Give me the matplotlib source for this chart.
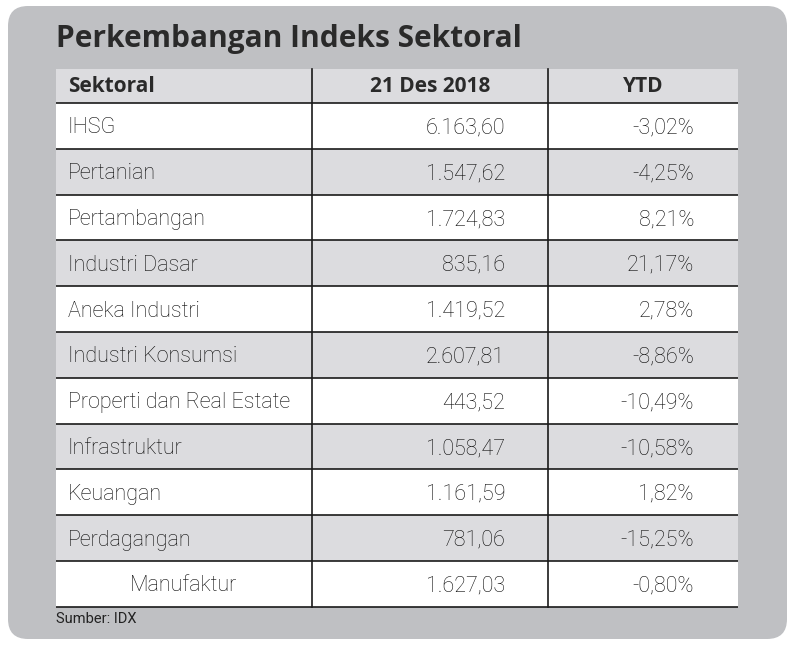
import matplotlib
matplotlib.use("Agg")
import matplotlib.pyplot as plt
from matplotlib.patches import FancyBboxPatch, Rectangle

sektor = ["IHSG", "Pertanian", "Pertambangan", "Industri Dasar", "Aneka Industri",
          "Industri Konsumsi", "Properti dan Real Estate", "Infrastruktur",
          "Keuangan", "Perdagangan", "Manufaktur"]
indeks = ["6.163,60", "1.547,62", "1.724,83", "835,16", "1.419,52", "2.607,81",
          "443,52", "1.058,47", "1.161,59", "781,06", "1.627,03"]
ytd = ["-3,02%", "-4,25%", "8,21%", "21,17%", "2,78%", "-8,86%", "-10,49%",
       "-10,58%", "1,82%", "-15,25%", "-0,80%"]
headers = ["Sektoral", "21 Des 2018", "YTD"]

W, H = 794, 646
fig = plt.figure(figsize=(W / 100, H / 100), dpi=100)
ax = fig.add_axes([0, 0, 1, 1])
ax.set_xlim(0, W)
ax.set_ylim(H, 0)
ax.axis("off")

bg = "#bfc0c3"
alt = "#dcdcdf"
line = "#1a1a1a"
txt = "#2a2a2a"
body_txt = "#0a0a0a"
body_font = "Roboto"
head_font = "Open Sans"

ax.add_patch(FancyBboxPatch((8 + 20, 6 + 20), 779 - 40, 633 - 40,
                            boxstyle="round,pad=20", fc=bg, ec="none"))

ax.text(56, 39, "Perkembangan Indeks Sektoral", fontsize=21.5, fontweight="bold",
        family=head_font, color=txt, va="center", ha="left")

x0, x1, x2, x3 = 56, 312, 548, 738
top, hh, rh = 69, 34, 45.8

# header
ax.add_patch(Rectangle((x0, top), x3 - x0, hh, fc=alt, ec="none"))
hy = top + hh / 2 + 1
ax.text(68, hy, headers[0], fontsize=15, fontweight="bold", family=head_font,
        color=txt, va="center", ha="left")
ax.text((x1 + x2) / 2, hy, headers[1], fontsize=15, fontweight="bold",
        family=head_font, color=txt, va="center", ha="center")
ax.text((x2 + x3) / 2, hy, headers[2], fontsize=15, fontweight="bold",
        family=head_font, color=txt, va="center", ha="center")

y = top + hh
for i, (s, v, p) in enumerate(zip(sektor, indeks, ytd)):
    fc = "white" if i % 2 == 0 else alt
    ax.add_patch(Rectangle((x0, y), x3 - x0, rh, fc=fc, ec="none"))
    cy = y + rh / 2 + 2
    kw = dict(fontsize=15.5, fontweight="light", family=body_font,
              color=body_txt, va="center")
    if s == "Manufaktur":
        ax.text((x0 + x1) / 2, cy, s, ha="center", **kw)
    else:
        ax.text(68, cy, s, ha="left", **kw)
    ax.text(505, cy, v, ha="right", **kw)
    ax.text(694, cy, p, ha="right", **kw)
    ax.plot([x0, x3], [y, y], color=line, lw=1.2, solid_capstyle="butt")
    y += rh
ax.plot([x0, x3], [y, y], color=line, lw=1.2, solid_capstyle="butt")

for xv in (x1, x2):
    ax.plot([xv, xv], [top, y], color=line, lw=1.2)

ax.text(56, 619, "Sumber: IDX", fontsize=10.5, family=body_font,
        color="#222222", va="center", ha="left")

fig.savefig("out.png", dpi=100)
